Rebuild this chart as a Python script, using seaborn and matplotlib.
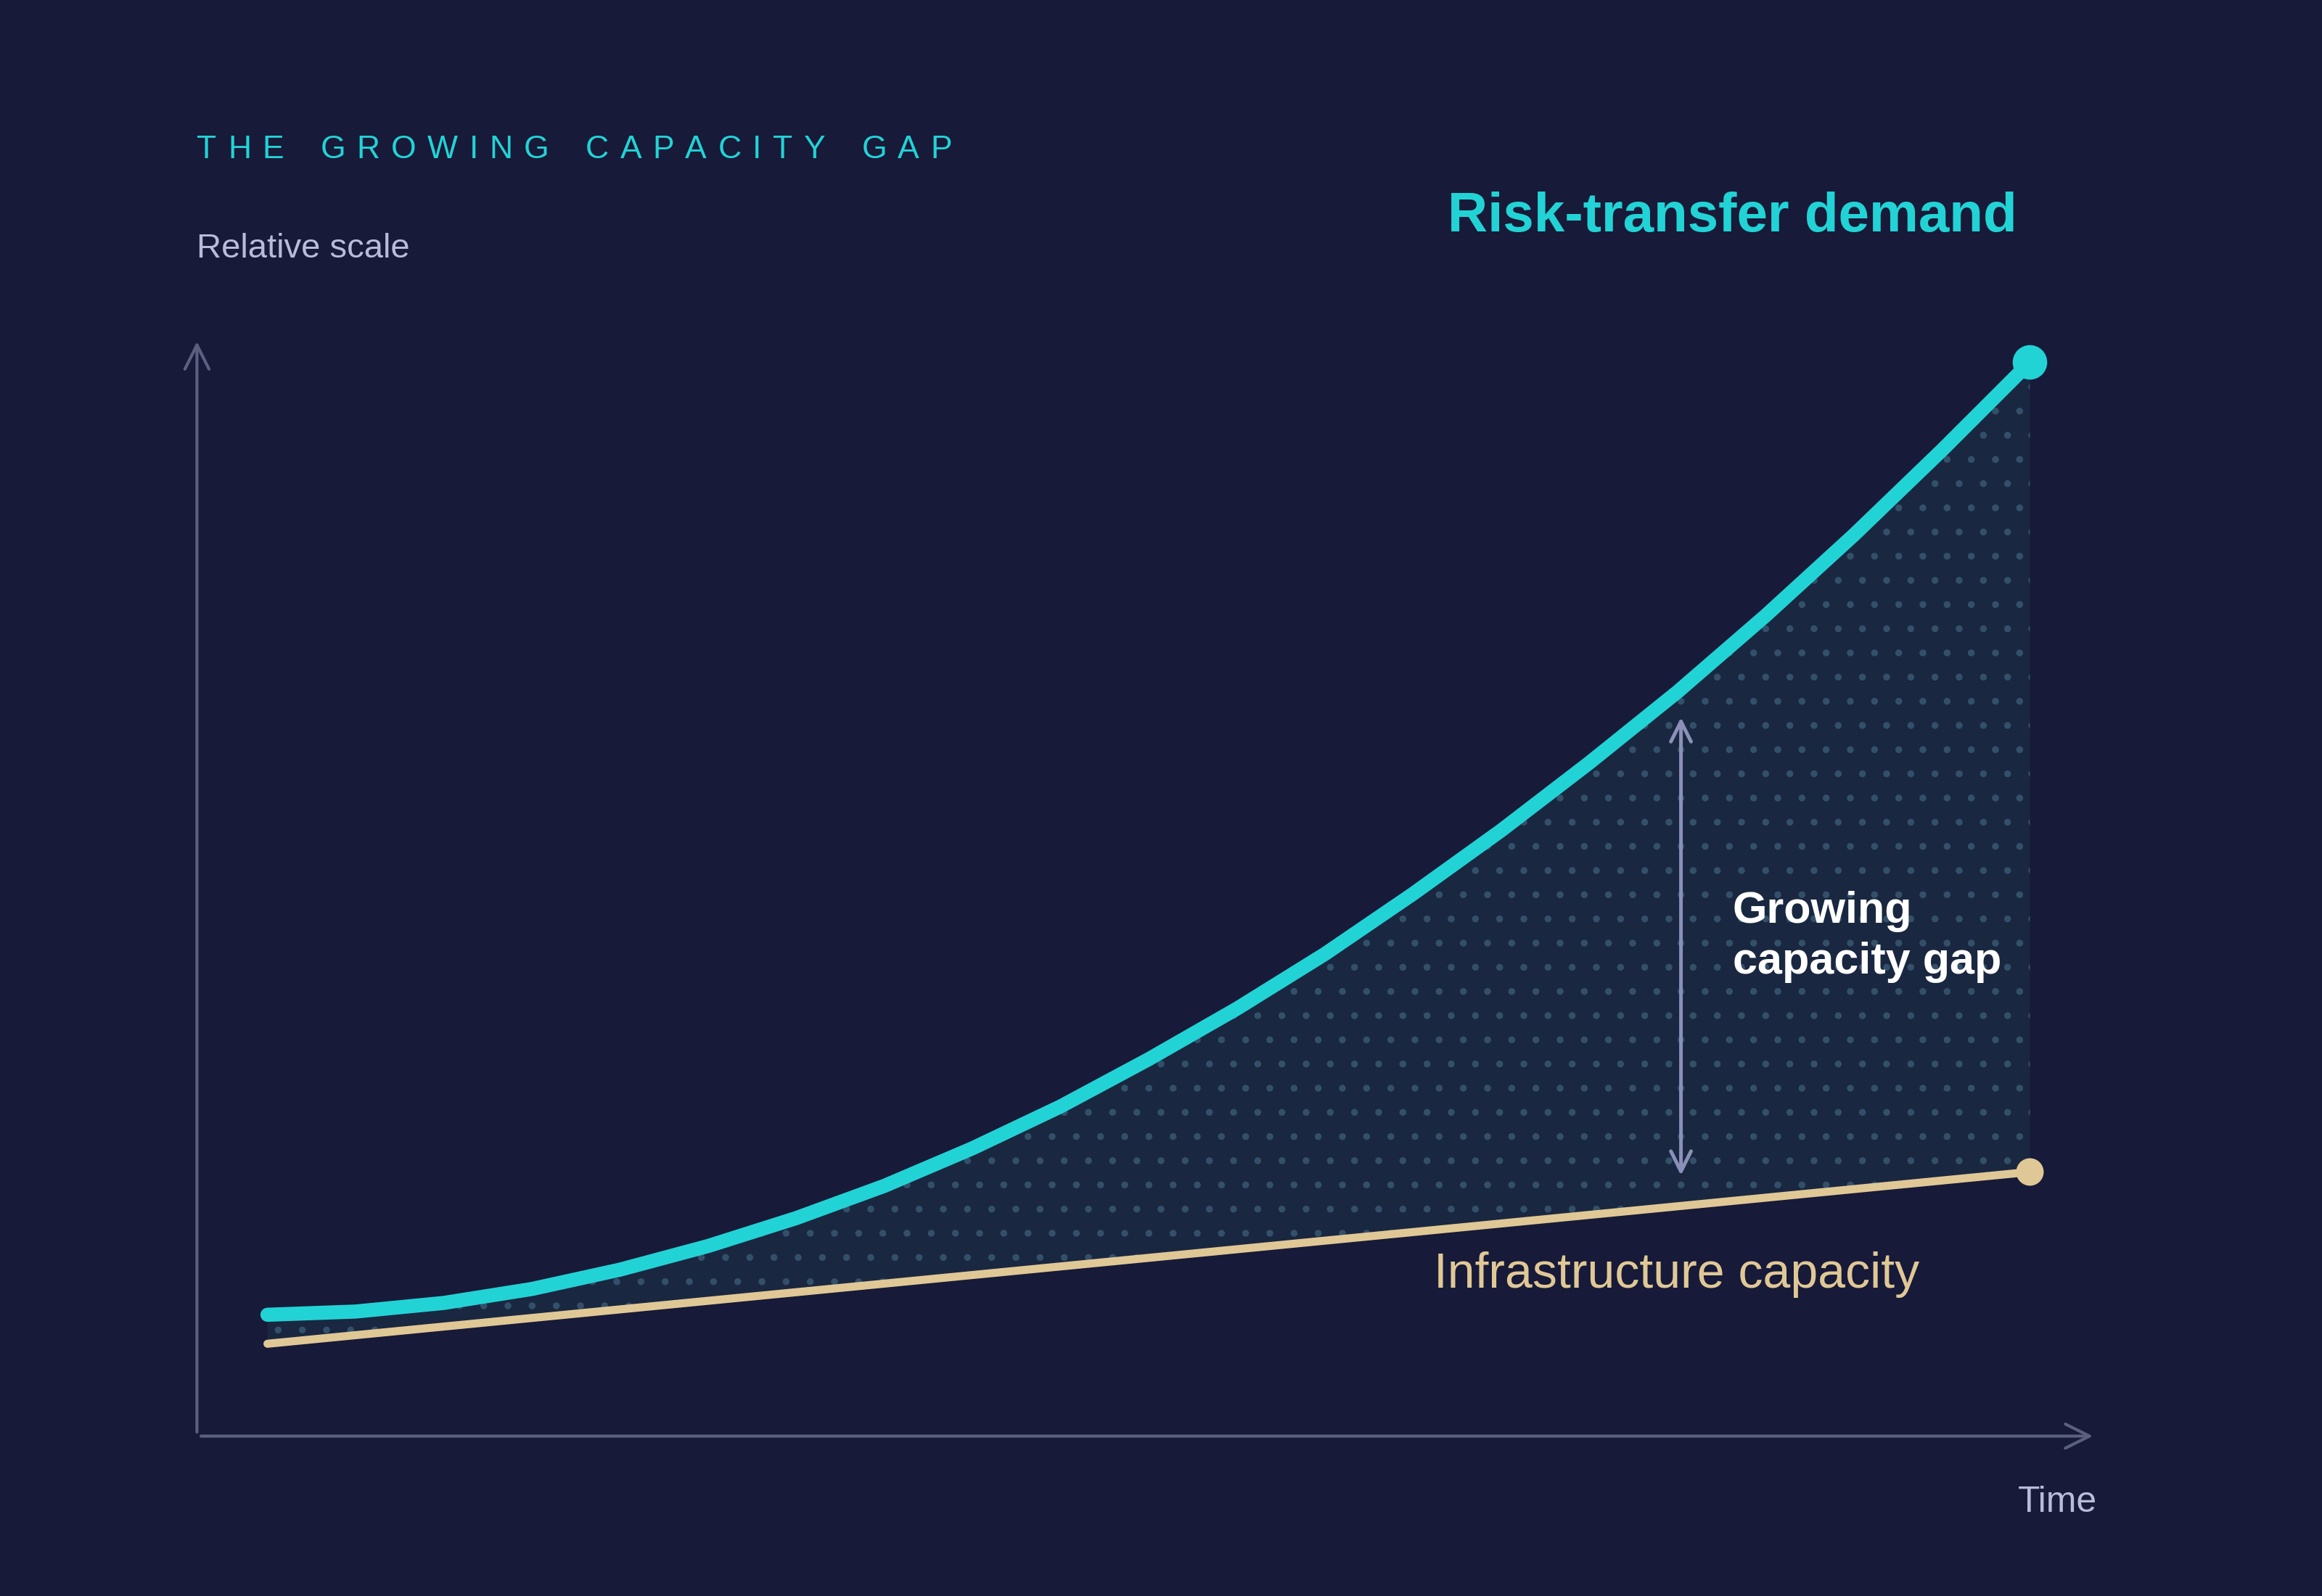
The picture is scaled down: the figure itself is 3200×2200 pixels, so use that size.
import numpy as np
import matplotlib
matplotlib.use("Agg")
import matplotlib.pyplot as plt
import seaborn as sns

time = [0, 0.5, 1, 1.5, 2, 2.5, 3, 3.5, 4, 4.5, 5, 5.5, 6, 6.5, 7, 7.5, 8, 8.5, 9, 9.5, 10]
demand = [11.3, 11.6, 12.4, 13.7, 15.5, 17.7, 20.3, 23.3, 26.8, 30.7, 35.1,
          39.8, 44.9, 50.5, 56.4, 62.7, 69.3, 76.4, 83.9, 91.8, 100.0]
cap_time = [0, 10]
capacity = [8.6, 24.6]
gap_t = 8.02
gap_top_val = 67.3
gap_bot_val = 23.9

BG = "#171a38"
CYAN = "#22d3d6"
TAN = "#e0c896"
AXC = "#5c6080"

sns.set_theme(style="white")
plt.rcParams['font.family'] = ['Liberation Sans', 'DejaVu Sans']

fig = plt.figure(figsize=(16, 11), dpi=200, facecolor=BG)
W, H = 1568, 1078
ax = fig.add_axes([133/W, 1-970/H, (1416-133)/W, (970-228)/H])
ax.set_facecolor(BG)
ax.set_xlim(-0.40, 10.38)
ax.set_ylim(0, 102.3)
for s in ax.spines.values():
    s.set_visible(False)
ax.set_xticks([]); ax.set_yticks([])

ax.annotate("", xy=(1, 0), xytext=(0, 0), xycoords="axes fraction",
            arrowprops=dict(arrowstyle="->", color=AXC, lw=1.5, mutation_scale=30))
ax.annotate("", xy=(0, 1), xytext=(0, 0), xycoords="axes fraction",
            arrowprops=dict(arrowstyle="->", color=AXC, lw=1.5, mutation_scale=30))

cap_interp = np.interp(time, cap_time, capacity)
plt.rcParams['hatch.linewidth'] = 1.0
ax.fill_between(time, cap_interp, demand, facecolor="#1a2740", edgecolor="#33506a",
                hatch=".", linewidth=0, zorder=1)

sns.lineplot(x=cap_time, y=capacity, ax=ax, color=TAN, lw=4, zorder=3)
sns.lineplot(x=time, y=demand, ax=ax, color=CYAN, lw=7, zorder=4,
             solid_capstyle="round", solid_joinstyle="round")
ax.scatter([cap_time[-1]], [capacity[-1]], s=160, color=TAN, zorder=5)
ax.scatter([time[-1]], [demand[-1]], s=260, color=CYAN, zorder=5)

ax.annotate("", xy=(gap_t, gap_top_val), xytext=(gap_t, gap_bot_val),
            arrowprops=dict(arrowstyle="<->", color="#8a90b8", lw=1.8, mutation_scale=25))

# letter-spaced title
title = "THE GROWING CAPACITY GAP"
renderer = fig.canvas.get_renderer()
x = 133/W
pitch_extra = 0.0048
for ch in title:
    t = fig.text(x, 1-101/H, ch, color=CYAN, fontsize=16, va="center", ha="left")
    if ch == " ":
        w = 0.0062
    else:
        bb = t.get_window_extent(renderer=renderer)
        w = bb.width / fig.bbox.width
    x += w + pitch_extra

fig.text(133/W, 1-168/H, "Relative scale", color="#b8bcd8", fontsize=17,
         va="center", ha="left")
fig.text(1362/W, 1-147/H, "Risk-transfer demand", color=CYAN, fontsize=27.5,
         fontweight="bold", va="center", ha="right")
fig.text(1170/W, 1-633/H, "Growing\ncapacity gap", color="white", fontsize=22,
         fontweight="bold", va="center", ha="left", linespacing=1.3)
fig.text(968/W, 1-861/H, "Infrastructure capacity", color=TAN, fontsize=24.5,
         va="center", ha="left")
fig.text(1416/W, 1-1015/H, "Time", color="#b8bcd8", fontsize=18,
         va="center", ha="right")

fig.savefig("out.png", dpi=200, facecolor=BG)
